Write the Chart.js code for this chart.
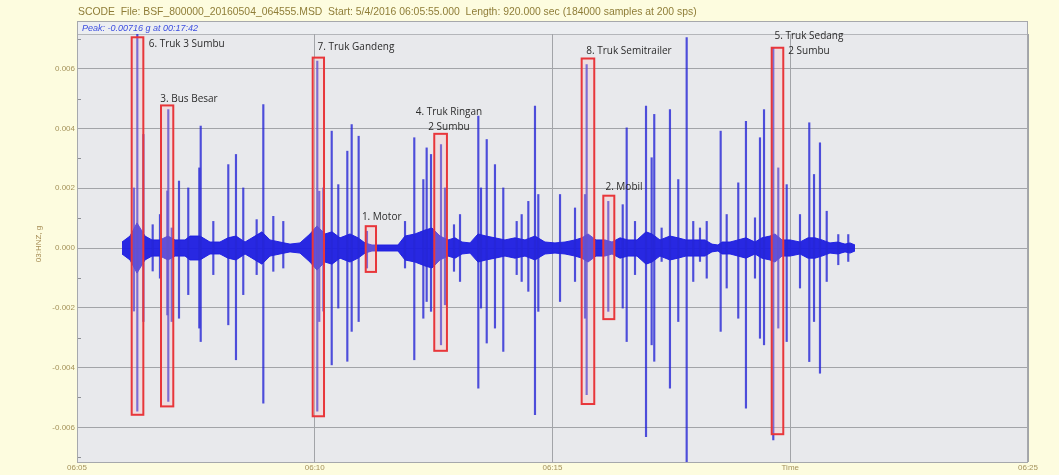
<!DOCTYPE html>
<html>
<head>
<meta charset="utf-8">
<title>SCODE acceleration record</title>
<script src="https://cdn.jsdelivr.net/npm/chart.js@4.4.1/dist/chart.umd.min.js"></script>
<style>
  html, body { margin: 0; padding: 0; background: #fdfcdf; }
  #wrap { width: 1059px; height: 475px; }
</style>
</head>
<body>
<div id="wrap"><canvas id="c" width="1059" height="475"></canvas></div>
<script>
// Time axis: seconds after 06:05:00. Amplitude in g.

// Individual acceleration peaks (vehicle axle hits)
const spikeTime = [71.9, 76.1, 83.7, 95.5, 104.7, 113.9, 115.2, 119.5, 128.7, 140.4,
  154.3, 156.1, 172.0, 190.9, 200.6, 209.8, 226.7, 235.1, 247.7, 260.3,
  303.2, 305.7, 310.8, 321.4, 329.7, 341.1, 346.6, 355.4, 365.9, 413.9,
  425.6, 437.0, 441.2, 446.7, 459.3, 464.3, 475.7, 483.3, 506.4, 509.8,
  517.0, 527.4, 537.9, 554.8, 561.1, 569.5, 577.9, 582.1, 609.5, 628.4,
  641.0, 643.1, 670.4, 688.6, 693.6, 704.1, 718.0, 725.1, 728.4, 737.7,
  748.2, 758.7, 769.3, 777.6, 786.1, 794.6, 812.2, 819.8, 834.4, 844.1,
  855.5, 861.8, 866.9, 878.6, 884.9, 895.5, 912.3, 924.0, 930.0, 937.5,
  946.0, 960.6, 973.2];
const spikeHigh = [0.00201, 0.00715, 0.00380, 0.00078, 0.00112, 0.00191, 0.00463, 0.00067, 0.00224, 0.00201,
  0.00268, 0.00408, 0.00089, 0.00279, 0.00313, 0.00201, 0.00095, 0.00480, 0.00106, 0.00089,
  0.00625, 0.00190, 0.00201, 0.00391, 0.00212, 0.00324, 0.00413, 0.00374, 0.00056, 0.00089,
  0.00369, 0.00229, 0.00335, 0.00313, 0.00346, 0.00201, 0.00078, 0.00112, 0.00441, 0.00201,
  0.00363, 0.00279, 0.00201, 0.00089, 0.00112, 0.00156, 0.00475, 0.00179, 0.00179, 0.00134,
  0.00179, 0.00614, 0.00156, 0.00145, 0.00402, 0.00089, 0.00475, 0.00302, 0.00447, 0.00067,
  0.00463, 0.00229, 0.00704, 0.00089, 0.00067, 0.00089, 0.00391, 0.00112, 0.00218, 0.00424,
  0.00101, 0.00369, 0.00463, 0.00670, 0.00268, 0.00212, 0.00112, 0.00419, 0.00246, 0.00352,
  0.00123, 0.00045, 0.00045];
const spikeLow = [-0.00211, -0.00546, -0.00246, -0.00077, -0.00101, -0.00224, -0.00513, -0.00246, -0.00235, -0.00156,
  -0.00268, -0.00313, -0.00089, -0.00257, -0.00374, -0.00156, -0.00089, -0.00519, -0.00078, -0.00067,
  -0.00546, -0.00246, -0.00211, -0.00391, -0.00201, -0.00379, -0.00279, -0.00246, -0.00067, -0.00067,
  -0.00374, -0.00235, -0.00179, -0.00212, -0.00324, -0.00190, -0.00078, -0.00112, -0.00469, -0.00201,
  -0.00318, -0.00268, -0.00346, -0.00089, -0.00112, -0.00145, -0.00558, -0.00212, -0.00179, -0.00112,
  -0.00235, -0.00491, -0.00212, -0.00201, -0.00313, -0.00089, -0.00631, -0.00324, -0.00379, -0.00045,
  -0.00469, -0.00246, -0.00716, -0.00112, -0.00045, -0.00101, -0.00279, -0.00134, -0.00235, -0.00536,
  -0.00101, -0.00302, -0.00324, -0.00642, -0.00268, -0.00313, -0.00134, -0.00380, -0.00246, -0.00419,
  -0.00112, -0.00056, -0.00045];

// Background vibration envelope (half amplitude of the dense trace)
const envTime = [56.8, 66.9, 75.7, 85.8, 94.6, 104.7, 114.8, 123.7, 136.3, 142.6,
  155.2, 167.8, 180.4, 190.5, 200.6, 212.0, 224.6, 233.4, 243.5, 256.1,
  268.8, 281.4, 294.0, 302.8, 312.9, 321.8, 331.9, 344.5, 354.6, 363.4,
  372.2, 388.6, 405.0, 413.9, 426.5, 439.1, 447.9, 458.0, 468.1, 477.0,
  485.8, 495.9, 506.0, 516.1, 527.4, 540.0, 552.7, 565.3, 577.9, 590.5,
  603.1, 615.8, 628.4, 637.2, 644.8, 654.9, 666.2, 675.1, 685.2, 695.2,
  706.6, 718.0, 725.5, 735.6, 748.2, 758.3, 768.4, 779.8, 792.4, 801.2,
  808.8, 813.9, 824.0, 834.1, 844.1, 855.5, 864.3, 874.4, 880.7, 889.6,
  899.7, 912.3, 922.4, 931.2, 940.0, 950.1, 960.2, 969.1, 975.4, 981.7];
const envAmp = [0.00020, 0.00040, 0.00084, 0.00040, 0.00027, 0.00027, 0.00040, 0.00027, 0.00027, 0.00040,
  0.00040, 0.00020, 0.00020, 0.00034, 0.00040, 0.00020, 0.00040, 0.00054, 0.00027, 0.00020,
  0.00013, 0.00017, 0.00047, 0.00074, 0.00047, 0.00054, 0.00034, 0.00047, 0.00034, 0.00017,
  0.00010, 0.00010, 0.00010, 0.00040, 0.00047, 0.00060, 0.00067, 0.00040, 0.00027, 0.00034,
  0.00020, 0.00017, 0.00047, 0.00040, 0.00034, 0.00027, 0.00034, 0.00027, 0.00040, 0.00020,
  0.00017, 0.00020, 0.00027, 0.00034, 0.00047, 0.00027, 0.00027, 0.00020, 0.00034, 0.00027,
  0.00027, 0.00054, 0.00047, 0.00027, 0.00040, 0.00034, 0.00027, 0.00027, 0.00027, 0.00013,
  0.00010, 0.00020, 0.00020, 0.00027, 0.00034, 0.00020, 0.00034, 0.00040, 0.00047, 0.00027,
  0.00027, 0.00020, 0.00034, 0.00034, 0.00027, 0.00017, 0.00020, 0.00013, 0.00017, 0.00010];

// Marked vehicle passages
const boxName = ['6. Truk 3 Sumbu', '3. Bus Besar', '7. Truk Gandeng', '1. Motor',
  '4. Truk Ringan|2 Sumbu', '8. Truk Semitrailer', '2. Mobil', '5. Truk Sedang|2 Sumbu'];
const boxStart = [69.0, 106.0, 297.4, 364.3, 450.8, 636.8, 664.1, 876.6];
const boxEnd = [83.7, 121.5, 311.7, 377.3, 466.8, 652.7, 678.0, 891.2];
const boxTop = [0.00705, 0.00477, 0.00637, 0.00073, 0.00382, 0.00634, 0.00175, 0.00670];
const boxBottom = [-0.00558, -0.00530, -0.00563, -0.00080, -0.00344, -0.00522, -0.00238, -0.00623];
const labelTime = [138.4, 141.3, 352.0, 384.5, 469.4, 696.5, 690.2, 923.6];
const labelValue = [0.00683, 0.00497, 0.00672, 0.00102, 0.00454, 0.00660, 0.00203, 0.00710];

// Axis ticks
const xTicks = [0, 300, 600, 900, 1200];
const xTickText = ['06:05', '06:10', '06:15', 'Time', '06:25'];
const yTicks = [-0.006, -0.004, -0.002, 0, 0.002, 0.004, 0.006];
const yMinorTicks = [-0.007, -0.005, -0.003, -0.001, 0.001, 0.003, 0.005, 0.007];
const peakValue = -0.00716;

const headerText = 'SCODE  File: BSF_800000_20160504_064555.MSD  Start: 5/4/2016 06:05:55.000  Length: 920.000 sec (184000 samples at 200 sps)';
const peakText = 'Peak: ' + peakValue.toFixed(5) + ' g at 00:17:42';
const yTitle = '03:HNZ, g';

const TRACE = 'rgba(30, 30, 226, 0.95)';

const framePlugin = {
  id: 'frame',
  beforeDraw(chart) {
    const { ctx, chartArea: a } = chart;
    ctx.save();
    ctx.fillStyle = '#fdfcdf';
    ctx.fillRect(0, 0, chart.width, chart.height);
    ctx.fillStyle = '#e8e9ec';
    ctx.fillRect(a.left, 21, a.right - a.left, a.bottom - 21);
    ctx.fillStyle = '#eceef1';
    ctx.fillRect(a.left, 21, a.right - a.left, a.top - 21);
    ctx.strokeStyle = '#b4b6ba';
    ctx.lineWidth = 1;
    ctx.beginPath();
    ctx.moveTo(a.left, a.top + 0.5);
    ctx.lineTo(a.right, a.top + 0.5);
    ctx.stroke();
    ctx.restore();
  },
  afterDraw(chart) {
    const { ctx, chartArea: a, scales } = chart;
    ctx.save();
    // minor ticks on the amplitude axis
    ctx.strokeStyle = '#8e9094';
    ctx.lineWidth = 1;
    yMinorTicks.forEach(v => {
      const y = Math.round(scales.y.getPixelForValue(v)) + 0.5;
      ctx.beginPath();
      ctx.moveTo(a.left, y);
      ctx.lineTo(a.left + 4, y);
      ctx.stroke();
    });
    ctx.strokeStyle = '#a6a8ac';
    ctx.strokeRect(a.left + 0.5, 21.5, a.right - a.left - 1, a.bottom - 21);
    // header line
    ctx.fillStyle = '#8f7d38';
    ctx.font = '10.4px "Liberation Sans", Arial, sans-serif';
    ctx.textBaseline = 'middle';
    ctx.textAlign = 'left';
    ctx.fillText(headerText, 78, 12);
    // peak readout
    ctx.fillStyle = '#3c4ee0';
    ctx.font = 'italic 9px "Liberation Sans", Arial, sans-serif';
    ctx.fillText(peakText, 82, 28);
    // amplitude axis title
    ctx.translate(39, 244);
    ctx.rotate(-Math.PI / 2);
    ctx.fillStyle = '#a48a52';
    ctx.font = '8px "Liberation Sans", Arial, sans-serif';
    ctx.textAlign = 'center';
    ctx.fillText(yTitle, 0, 0);
    ctx.restore();
  }
};

const boxPlugin = {
  id: 'vehicleBoxes',
  afterDatasetsDraw(chart) {
    const { ctx, scales: { x, y } } = chart;
    ctx.save();
    boxName.forEach((name, i) => {
      const x0 = x.getPixelForValue(boxStart[i]);
      const x1 = x.getPixelForValue(boxEnd[i]);
      const y0 = y.getPixelForValue(boxTop[i]);
      const y1 = y.getPixelForValue(boxBottom[i]);
      ctx.fillStyle = 'rgba(255, 190, 190, 0.28)';
      ctx.fillRect(x0, y0, x1 - x0, y1 - y0);
      ctx.strokeStyle = '#e8363a';
      ctx.lineWidth = 2;
      ctx.strokeRect(x0, y0, x1 - x0, y1 - y0);
      const lines = name.split('|');
      const cx = x.getPixelForValue(labelTime[i]);
      const cy = y.getPixelForValue(labelValue[i]);
      ctx.fillStyle = '#2b2b2b';
      ctx.font = '10px "Open Sans", "Liberation Sans", sans-serif';
      ctx.textAlign = 'center';
      ctx.textBaseline = 'middle';
      lines.forEach((ln, k) => ctx.fillText(ln, cx, cy + k * 15));
    });
    ctx.restore();
  }
};

new Chart(document.getElementById('c'), {
  type: 'bar',
  data: {
    datasets: [
      {
        type: 'bar',
        data: spikeTime.map((t, i) => ({ x: t, y: [spikeLow[i], spikeHigh[i]] })),
        backgroundColor: 'rgba(38, 38, 214, 0.8)',
        borderWidth: 0,
        barThickness: 1.5,
        grouped: false,
        order: 1
      },
      {
        type: 'line',
        data: envTime.map((t, i) => ({ x: t, y: envAmp[i] })),
        borderColor: TRACE,
        borderWidth: 1,
        pointRadius: 0,
        fill: false,
        tension: 0,
        order: 2
      },
      {
        type: 'line',
        data: envTime.map((t, i) => ({ x: t, y: -envAmp[i] })),
        borderColor: TRACE,
        backgroundColor: TRACE,
        borderWidth: 1,
        pointRadius: 0,
        fill: '-1',
        tension: 0,
        order: 2
      }
    ]
  },
  options: {
    responsive: false,
    animation: false,
    devicePixelRatio: 1,
    layout: { padding: { left: 0, top: 34, right: 31, bottom: 0 } },
    plugins: { legend: { display: false }, tooltip: { enabled: false } },
    scales: {
      x: {
        type: 'linear',
        min: 0,
        max: 1200,
        offset: false,
        afterBuildTicks: s => { s.ticks = xTicks.map(v => ({ value: v })); },
        afterFit: s => { s.height = 13; },
        ticks: {
          autoSkip: false,
          maxRotation: 0,
          padding: 1,
          color: '#a4925a',
          font: { size: 8, family: '"Liberation Sans", Arial, sans-serif' },
          callback: v => xTickText[xTicks.indexOf(v)]
        },
        grid: { color: '#a2a4a8', drawTicks: false, offset: false },
        border: { display: false }
      },
      y: {
        min: peakValue,
        max: -peakValue,
        afterBuildTicks: s => { s.ticks = yTicks.map(v => ({ value: v })); },
        afterFit: s => { s.width = 77; },
        ticks: {
          padding: 2,
          color: '#a4925a',
          font: { size: 8, family: '"Liberation Sans", Arial, sans-serif' },
          callback: v => v.toFixed(3)
        },
        grid: { color: '#a2a4a8', drawTicks: false },
        border: { display: false }
      }
    }
  },
  plugins: [framePlugin, boxPlugin]
});
</script>
</body>
</html>
